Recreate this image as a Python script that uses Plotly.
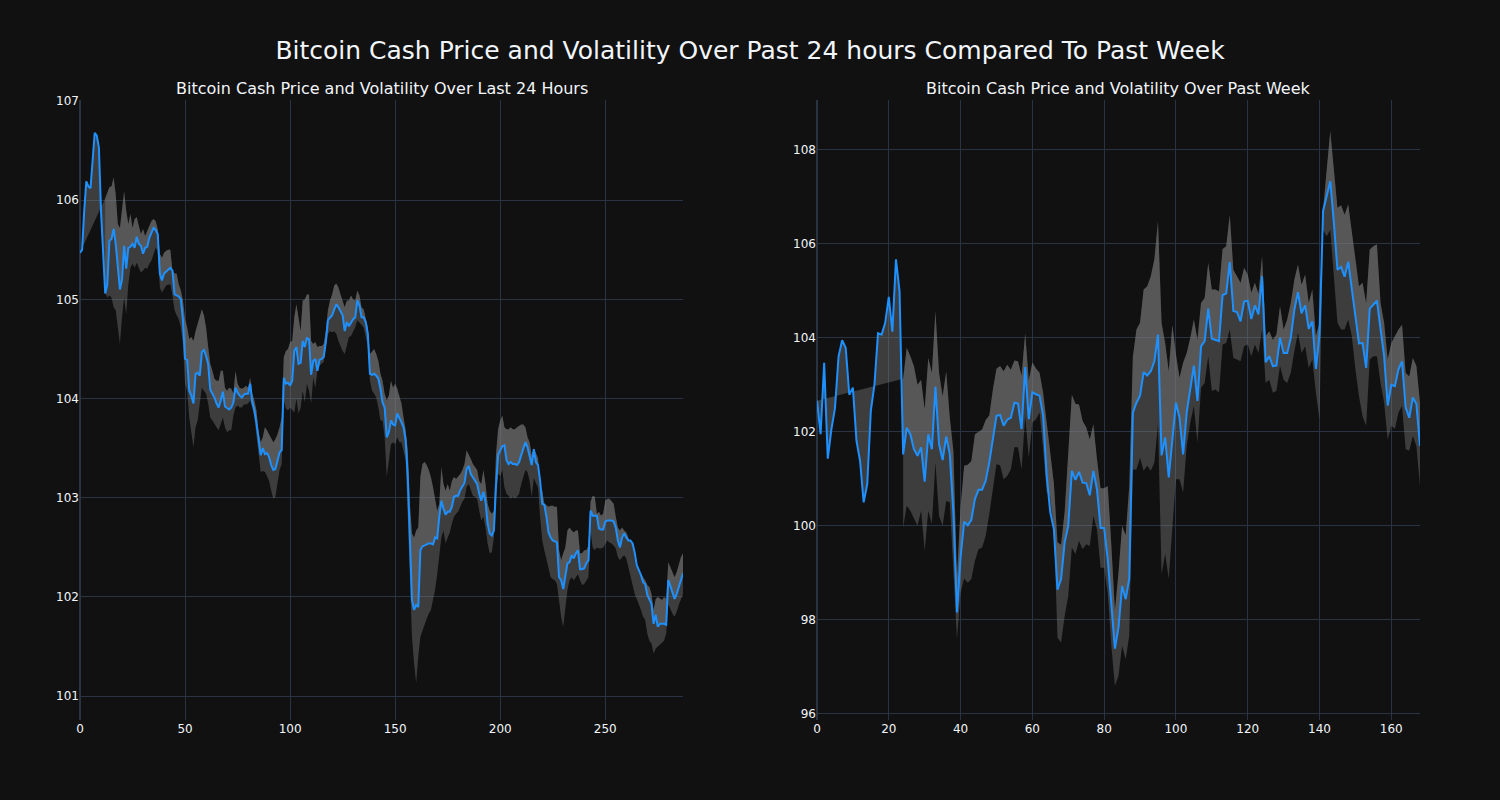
import plotly.graph_objects as go
from plotly.subplots import make_subplots

# ---------------- Last 24 hours (5-minute steps) ----------------
day_price = [
    105.47, 105.5, 105.89, 106.19, 106.14, 106.12, 106.4, 106.68, 106.65, 106.53,
    105.89, 105.51, 105.06, 105.15, 105.59, 105.61, 105.71, 105.56, 105.29, 105.1,
    105.2, 105.54, 105.31, 105.52, 105.53, 105.56, 105.52, 105.63, 105.56, 105.54,
    105.46, 105.52, 105.53, 105.62, 105.67, 105.72, 105.7, 105.66, 105.26, 105.19,
    105.26, 105.28, 105.3, 105.32, 105.29, 105.05, 105.04, 105.03, 105.0, 104.79,
    104.4, 104.39, 104.08, 104.03, 103.95, 104.25, 104.26, 104.23, 104.47, 104.49,
    104.43, 104.35, 104.09, 104.05, 104.01, 103.95, 103.91, 103.98, 104.07, 103.92,
    103.9, 103.89, 103.91, 103.96, 104.11, 104.06, 104.03, 104.01, 104.04, 104.05,
    104.05, 104.15, 103.96, 103.88, 103.75, 103.58, 103.43, 103.5, 103.44, 103.45,
    103.41, 103.33, 103.28, 103.29, 103.38, 103.46, 103.48, 104.21, 104.15, 104.16,
    104.13, 104.18, 104.48, 104.52, 104.35, 104.36, 104.58, 104.52, 104.61, 104.6,
    104.24, 104.38, 104.4, 104.28, 104.39, 104.4, 104.42, 104.57, 104.79, 104.82,
    104.84, 104.9, 104.95, 104.92, 104.88, 104.84, 104.68, 104.77, 104.73, 104.77,
    104.8, 104.82, 104.99, 104.94, 104.82, 104.82, 104.77, 104.65, 104.25, 104.24,
    104.25, 104.23, 104.2, 104.1, 103.96, 103.91, 103.61, 103.66, 103.78, 103.74,
    103.73, 103.85, 103.81, 103.76, 103.71, 103.58, 103.21, 102.67, 101.97, 101.87,
    101.92, 101.9, 102.47, 102.51, 102.52, 102.53, 102.54, 102.54, 102.53, 102.6,
    102.59, 102.81, 102.97, 102.89, 102.83, 102.86, 102.86, 102.91, 103.01, 103.02,
    103.02, 103.08, 103.11, 103.15, 103.29, 103.32, 103.24, 103.21, 103.17, 103.14,
    103.04, 102.97, 103.06, 102.96, 102.74, 102.64, 102.62, 102.67, 103.12, 103.43,
    103.48, 103.52, 103.53, 103.38, 103.34, 103.36, 103.34, 103.34, 103.33, 103.36,
    103.43, 103.49, 103.56, 103.51, 103.41, 103.33, 103.49, 103.36, 103.33, 103.17,
    102.94, 102.93, 102.81, 102.65, 102.6, 102.57, 102.56, 102.55, 102.2, 102.17,
    102.08, 102.2, 102.34, 102.35, 102.42, 102.39, 102.44, 102.47, 102.28, 102.28,
    102.29, 102.34, 102.37, 102.87, 102.82, 102.82, 102.82, 102.69, 102.68, 102.68,
    102.76, 102.77, 102.77, 102.77, 102.76, 102.7, 102.57, 102.5, 102.6, 102.64,
    102.6, 102.57, 102.57, 102.54, 102.45, 102.32, 102.27, 102.22, 102.15, 102.13,
    102.02, 101.97, 101.93, 101.73, 101.82, 101.7, 101.73, 101.73, 101.73, 101.72,
    102.17, 102.11, 102.05, 101.98, 102.03, 102.1, 102.17, 102.24,
]

day_upper = [None] * 12 + [
    106.02, 106.08, 106.13, 106.14, 106.23, 106.06, 105.76, 105.72,
    105.89, 106.09, 105.89, 105.76, 105.86, 105.72, 105.81, 105.83, 105.74, 105.66,
    105.71, 105.64, 105.69, 105.74, 105.79, 105.81, 105.79, 105.71, 105.46, 105.42,
    105.47, 105.49, 105.5, 105.5, 105.29, 105.26, 105.26, 105.15, 105.09, 104.99,
    104.8, 104.72, 104.6, 104.62, 104.58, 104.68, 104.75, 104.82, 104.9, 104.84,
    104.72, 104.52, 104.35, 104.28, 104.2, 104.18, 104.18, 104.28, 104.28, 104.11,
    104.08, 104.11, 104.1, 104.05, 104.28, 104.15, 104.11, 104.1, 104.11, 104.13,
    104.11, 104.21, 104.05, 103.98, 103.88, 103.66, 103.56, 103.61, 103.71, 103.68,
    103.64, 103.61, 103.56, 103.59, 103.64, 103.71, 103.81, 104.42, 104.48, 104.5,
    104.57, 104.58, 104.82, 104.95, 104.79, 104.68, 104.99, 105.0, 105.05, 105.05,
    104.58, 104.55, 104.57, 104.52, 104.53, 104.53, 104.55, 104.68, 104.89, 104.99,
    105.05, 105.14, 105.16, 105.12, 105.05, 104.99, 104.92, 104.99, 104.99, 105.04,
    105.0, 104.99, 105.09, 105.04, 104.92, 104.9, 104.82, 104.72, 104.45, 104.48,
    104.5, 104.45, 104.38, 104.25, 104.18, 104.05, 103.98, 104.03, 104.18, 104.11,
    104.15, 104.1, 104.01, 103.95, 103.81, 103.68, 103.48, 102.94, 102.64, 102.6,
    102.67, 102.7, 103.21, 103.34, 103.36, 103.33, 103.28, 103.21, 103.11, 102.97,
    102.87, 102.94, 103.31, 103.14, 103.07, 103.14, 103.07, 103.17, 103.21, 103.19,
    103.21, 103.24, 103.28, 103.34, 103.48, 103.44, 103.39, 103.34, 103.31, 103.28,
    103.17, 103.14, 103.28, 103.14, 102.94, 102.87, 102.84, 102.87, 103.44, 103.69,
    103.78, 103.83, 103.71, 103.69, 103.69, 103.71, 103.69, 103.69, 103.71, 103.73,
    103.74, 103.74, 103.71, 103.61, 103.56, 103.43, 103.5, 103.45, 103.4, 103.11,
    103.07, 102.94, 102.92, 102.91, 102.92, 102.92, 102.91, 102.91, 102.47, 102.37,
    102.44, 102.5, 102.67, 102.7, 102.67, 102.65, 102.67, 102.67, 102.44, 102.44,
    102.47, 102.47, 102.52, 102.96, 103.02, 103.01, 102.84, 102.86, 102.82, 102.84,
    102.97, 102.99, 102.99, 102.97, 102.94, 102.81, 102.7, 102.67, 102.7, 102.67,
    102.65, 102.6, 102.5, 102.4, 102.35, 102.3, 102.27, 102.23, 102.2, 102.17,
    102.12, 102.1, 102.03, 101.87, 101.98, 102.0, 101.98, 101.97, 102.0, 101.98,
    102.35, 102.3, 102.25, 102.2, 102.25, 102.34, 102.4, 102.44,
]

day_lower = [None] * 12 + [
    105.07, 105.02, 105.04, 105.02, 104.92, 104.89, 104.72, 104.55,
    104.82, 105.02, 104.85, 105.15, 105.32, 105.36, 105.32, 105.37, 105.32, 105.27,
    105.29, 105.32, 105.31, 105.36, 105.39, 105.46, 105.52, 105.49, 105.12, 105.07,
    105.1, 105.14, 105.15, 105.15, 105.04, 104.89, 104.84, 104.8, 104.72, 104.55,
    104.15, 104.08, 103.81, 103.68, 103.51, 103.71, 103.78, 103.95, 104.11, 104.08,
    104.05, 103.95, 103.81, 103.78, 103.74, 103.71, 103.68, 103.74, 103.81, 103.71,
    103.66, 103.68, 103.68, 103.83, 103.91, 103.93, 103.91, 103.91, 103.94, 103.94,
    103.95, 103.98, 103.91, 103.81, 103.64, 103.44, 103.26, 103.27, 103.26, 103.22,
    103.17, 103.07, 102.99, 103.01, 103.14, 103.28, 103.34, 103.98, 103.9, 103.88,
    103.91, 103.88, 103.86, 104.0, 103.85, 103.91, 104.08, 103.96, 104.15, 104.08,
    103.95, 104.21, 104.11, 104.28, 104.33, 104.35, 104.37, 104.52, 104.65, 104.68,
    104.67, 104.68, 104.65, 104.58, 104.53, 104.48, 104.45, 104.55, 104.62, 104.63,
    104.68, 104.72, 104.79, 104.77, 104.75, 104.72, 104.62, 104.52, 104.18, 104.08,
    104.05, 104.01, 103.91, 103.78, 103.78, 103.61, 103.21, 103.41, 103.54, 103.56,
    103.54, 103.61, 103.56, 103.56, 103.48, 103.38, 102.81, 102.2, 101.6, 101.33,
    101.13, 101.4, 101.6, 101.66, 101.73, 101.78, 101.83, 101.87, 101.97, 102.07,
    102.23, 102.4, 102.6, 102.67, 102.54, 102.6, 102.65, 102.74, 102.81, 102.84,
    102.86, 102.91, 102.96, 102.99, 103.11, 103.14, 103.07, 103.02, 103.01, 102.99,
    102.87, 102.77, 102.81, 102.7, 102.54, 102.44, 102.45, 102.6, 103.01, 103.24,
    103.22, 103.28, 103.11, 103.04, 103.02, 102.99, 103.01, 102.99, 103.01, 103.04,
    103.14, 103.21, 103.28, 103.26, 103.17, 103.01, 103.2, 103.15, 103.1, 102.81,
    102.57, 102.47, 102.37, 102.27, 102.2, 102.18, 102.17, 102.13, 101.96, 101.8,
    101.7, 101.9, 102.07, 102.17, 102.2, 102.17, 102.2, 102.23, 102.17, 102.12,
    102.13, 102.17, 102.2, 102.67, 102.5, 102.47, 102.5, 102.49, 102.49, 102.5,
    102.54, 102.57, 102.55, 102.54, 102.52, 102.49, 102.4, 102.37, 102.4, 102.42,
    102.39, 102.3, 102.2, 102.1, 102.03, 101.98, 101.93, 101.87, 101.8, 101.77,
    101.63, 101.56, 101.53, 101.43, 101.48, 101.5, 101.53, 101.55, 101.56, 101.63,
    101.93, 101.88, 101.83, 101.8, 101.85, 101.92, 101.97, 102.03,
]

# ---------------- Past week (hourly steps) ----------------
week_price = [
    102.66, 101.95, 103.47, 101.43, 102.05, 102.5, 103.6, 103.95, 103.79, 102.79,
    102.94, 101.81, 101.38, 100.5, 100.89, 102.45, 103.0, 104.1, 104.07, 104.32,
    104.87, 104.13, 105.67, 104.99, 101.52, 102.09, 101.95, 101.63, 101.49, 101.67,
    100.94, 101.95, 101.63, 102.96, 101.74, 101.4, 101.9, 101.52, 100.28, 98.16,
    99.33, 100.09, 100.01, 100.13, 100.57, 100.77, 100.77, 100.96, 101.35, 101.84,
    102.34, 102.36, 102.13, 102.26, 102.3, 102.62, 102.6, 102.06, 103.38, 102.27,
    102.84, 102.8, 102.77, 102.34, 101.06, 100.28, 99.93, 98.64, 98.87, 99.65,
    100.0, 101.17, 100.98, 101.15, 100.92, 100.91, 100.65, 101.17, 100.78, 99.96,
    99.95, 99.29, 98.3, 97.39, 97.84, 98.72, 98.44, 98.87, 102.41, 102.62,
    102.77, 103.27, 103.2, 103.29, 103.5, 104.07, 101.5, 101.88, 101.03, 101.81,
    102.62, 102.3, 101.52, 102.41, 102.87, 103.41, 102.66, 103.82, 103.93, 104.62,
    103.98, 103.96, 103.93, 104.91, 104.94, 105.61, 104.57, 104.55, 104.35, 104.77,
    104.79, 104.4, 104.69, 104.5, 105.31, 103.48, 103.61, 103.4, 103.41, 104.0,
    103.68, 103.68, 104.0, 104.6, 104.97, 104.52, 104.69, 104.19, 104.35, 103.34,
    104.07, 106.7, 107.01, 107.33, 106.45, 105.45, 105.51, 105.3, 105.62, 105.03,
    104.46, 103.88, 103.89, 103.36, 104.62, 104.71, 104.79, 104.19, 103.61, 102.56,
    103.0, 102.97, 103.33, 103.5, 102.52, 102.3, 102.73, 102.59, 101.7,
]

week_upper = [None] * 24 + [
    103.13, 103.79, 103.61, 103.4, 103.0, 103.11, 102.48, 103.57, 103.26, 104.57,
    103.26, 102.76, 103.29, 102.3, 101.6, 98.9, 100.4, 101.28, 101.3, 101.38,
    101.95, 102.0, 102.05, 102.25, 102.35, 102.9, 103.34, 103.4, 103.29, 103.43,
    103.32, 103.52, 103.5, 103.2, 104.1, 103.1, 103.48, 103.35, 103.26, 102.83,
    102.2, 101.6, 100.9, 99.65, 99.6, 100.3, 101.5, 102.79, 102.6, 102.58,
    102.23, 102.1, 101.84, 102.16, 101.42, 100.8, 100.8, 100.85, 99.6, 98.2,
    99.0, 100.0, 99.8, 100.85, 103.6, 104.18, 104.32, 105.03, 105.1, 105.31,
    105.67, 106.48, 104.32, 103.89, 103.29, 104.28, 103.65, 103.15, 103.47, 103.68,
    104.0, 104.39, 103.96, 104.74, 104.85, 105.6, 105.03, 105.03, 104.99, 105.89,
    105.95, 106.62, 105.45, 105.31, 105.17, 105.49, 105.35, 104.96, 105.17, 104.94,
    105.74, 104.04, 104.14, 103.96, 104.07, 104.67, 104.18, 104.39, 104.74, 105.24,
    105.56, 105.13, 105.35, 104.74, 105.03, 104.04, 104.32, 106.73, 107.65, 108.4,
    107.58, 106.77, 106.82, 106.62, 106.84, 106.23, 105.7, 105.1, 105.17, 104.74,
    105.88, 105.95, 105.99, 104.74, 104.32, 103.54, 103.89, 104.04, 104.18, 104.28,
    103.26, 103.18, 103.57, 103.4, 102.62,
]

week_lower = [None] * 24 + [
    99.96, 100.43, 100.32, 100.14, 100.0, 100.32, 99.47, 100.32, 100.04, 101.35,
    100.21, 100.0, 100.53, 100.5, 99.15, 97.59, 98.58, 98.88, 98.79, 98.87,
    99.26, 99.5, 99.54, 99.79, 100.25, 100.78, 101.31, 101.29, 100.99, 101.06,
    101.2, 101.67, 101.67, 101.2, 102.34, 101.45, 102.2, 102.27, 102.41, 101.63,
    100.71, 100.64, 100.0, 97.62, 97.52, 98.08, 98.51, 99.54, 99.4, 99.68,
    99.5, 99.61, 99.57, 100.21, 99.93, 99.11, 99.11, 98.58, 97.45, 96.6,
    96.81, 97.45, 97.16, 97.66, 101.2, 101.2, 101.45, 101.17, 101.28, 101.17,
    101.35, 102.16, 98.97, 99.4, 98.87, 99.96, 100.99, 100.99, 100.71, 101.7,
    102.2, 102.55, 101.77, 102.94, 103.04, 103.61, 102.87, 102.9, 102.83, 103.86,
    103.89, 104.18, 103.57, 103.54, 103.5, 103.82, 103.86, 103.61, 103.86, 103.68,
    104.18, 103.04, 103.11, 102.83, 102.87, 103.4, 103.11, 103.04, 103.26, 103.72,
    104.11, 103.68, 103.82, 103.36, 103.54, 102.83, 102.26, 106.3, 106.16, 106.3,
    105.31, 104.32, 104.18, 104.18, 104.39, 104.04, 103.33, 102.76, 102.33, 102.13,
    103.54, 103.61, 103.61, 103.04, 102.62, 101.84, 102.13, 102.06, 102.41, 102.55,
    101.63, 101.6, 101.91, 101.7, 100.85,
]

main_title = "Bitcoin Cash Price and Volatility Over Past 24 hours Compared To Past Week"
sub_titles = ("Bitcoin Cash Price and Volatility Over Last 24 Hours",
              "Bitcoin Cash Price and Volatility Over Past Week")

FONT = "DejaVu Sans"
BAND_FILL = "rgba(128,128,128,0.4)"
LINE_COLOR = "#1e90ff"

fig = make_subplots(rows=1, cols=2, subplot_titles=sub_titles)


def add_panel(price, upper, lower, col):
    xs = list(range(len(price)))
    fig.add_trace(go.Scatter(x=xs, y=lower, mode="lines", line=dict(width=0),
                             hoverinfo="skip", showlegend=False), row=1, col=col)
    fig.add_trace(go.Scatter(x=xs, y=upper, mode="lines", line=dict(width=0),
                             fill="tonexty", fillcolor=BAND_FILL,
                             hoverinfo="skip", showlegend=False), row=1, col=col)
    fig.add_trace(go.Scatter(x=xs, y=price, mode="lines",
                             line=dict(color=LINE_COLOR, width=2),
                             fill="tonexty", fillcolor=BAND_FILL,
                             showlegend=False), row=1, col=col)


add_panel(day_price, day_upper, day_lower, 1)
add_panel(week_price, week_upper, week_lower, 2)

fig.update_layout(
    template="plotly_dark",
    paper_bgcolor="#111111",
    plot_bgcolor="#111111",
    width=1500, height=800,
    font=dict(family=FONT, size=12),
    title=dict(text=main_title, x=0.5, xanchor="center",
               y=0.9375, yanchor="middle",
               font=dict(family=FONT, size=25)),
    showlegend=False,
    margin=dict(l=80, r=80, t=100, b=80),
)
for ann in fig.layout.annotations:
    ann.font = dict(family=FONT, size=16, color="#f2f5fa")

fig.update_xaxes(range=[0, 287], dtick=50, row=1, col=1)
fig.update_xaxes(range=[0, 168], dtick=20, row=1, col=2)
fig.update_yaxes(range=[100.76, 107.01], dtick=1, row=1, col=1)
fig.update_yaxes(range=[95.87, 109.06], dtick=2, row=1, col=2)

fig.write_html(
    "out.html",
    config={"displayModeBar": False},
    post_script="document.body.style.margin='0';document.body.style.background='#111111';",
)
